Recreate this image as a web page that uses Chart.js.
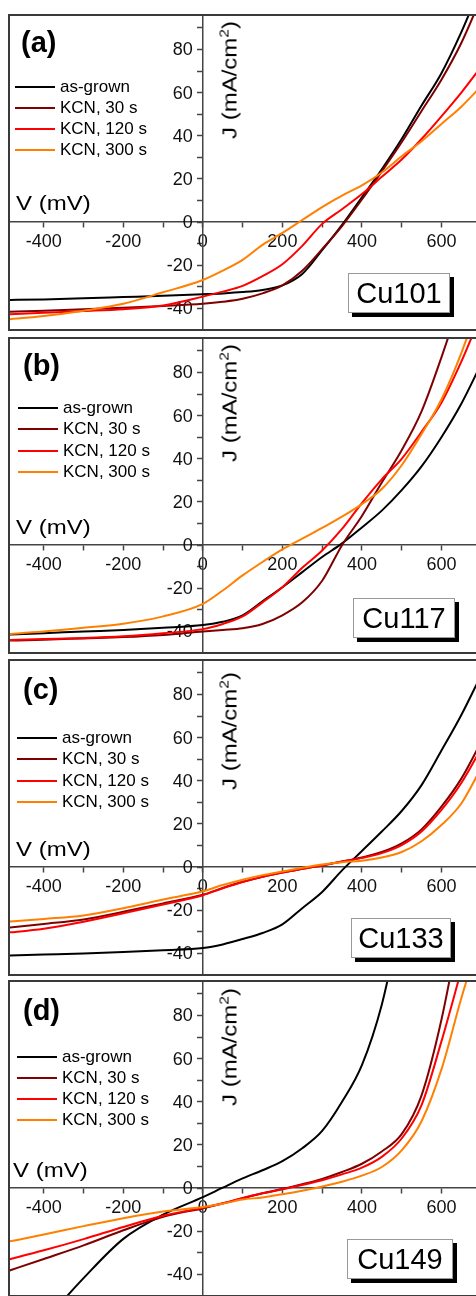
<!DOCTYPE html>
<html>
<head>
<meta charset="utf-8">
<title>J-V curves Cu101 - Cu149</title>
<script src="https://cdn.jsdelivr.net/npm/chart.js@4.4.1/dist/chart.umd.min.js"></script>
<style>
  html, body { margin: 0; padding: 0; background: #fff; overflow: hidden; }
  body { width: 476px; height: 1296px; position: relative; color: #000;
         font-family: 'Liberation Sans', Arial, sans-serif; }
  .panel  { position: absolute; left: 0; width: 476px; height: 317px; }
  .frame  { position: absolute; left: 8px; top: 0; width: 480px; height: 317px;
            box-sizing: border-box; border: 2px solid #3a3a3a; }
  .panel canvas { position: absolute; left: 10px; top: 2px; }
  .tag    { position: absolute; font-weight: bold; font-size: 29px; line-height: 29px; }
  .vlab   { position: absolute; font-size: 20px; line-height: 20px; white-space: nowrap;
            transform: scaleX(1.2); transform-origin: 0 0; }
  .jlab   { position: absolute; font-size: 20px; line-height: 20px; white-space: nowrap;
            transform: translate(-50%, -50%) rotate(-90deg) scaleX(1.2); }
  .jlab .sup { font-size: 13px; position: relative; top: -8px; }
  .legend { position: absolute; font-size: 17px; }
  .legend .row { display: flex; align-items: center; height: 21.2px; white-space: nowrap; }
  .legend .sw  { width: 40px; height: 2px; margin-right: 5px; }
  .sample { position: absolute; height: 40px; box-sizing: border-box; border: 1px solid #999;
            background: #fff; box-shadow: 4px 4px 0 #000; font-size: 29px; line-height: 38px;
            text-align: center; }
</style>
</head>
<body>
<script>
// ── DATA ─────────────────────────────────────────────────────────
// voltage grid (mV), shared by every curve
const V_MV = [-500, -400, -300, -200, -100, 0, 50, 100, 150, 200, 250, 300, 350, 400, 450, 500, 550, 600, 650, 700];

const SERIES_NAMES  = ['as-grown', 'KCN, 30 s', 'KCN, 120 s', 'KCN, 300 s'];
const SERIES_COLORS = ['#000000', '#7f0000', '#ff0000', '#ff8000'];
const SAMPLES       = ['Cu101', 'Cu117', 'Cu133', 'Cu149'];
const PANEL_TAGS    = ['(a)', '(b)', '(c)', '(d)'];

// J (mA/cm2)
const CU101_GROWN  = [-36.1, -35.8, -35.3, -34.7, -34.1, -33.4, -33, -32.4, -31.4, -29.3, -24, -13, -1.3, 11.5, 24.5, 38.5, 54, 69, 88, 110];
const CU101_KCN30  = [-41.6, -41, -40.3, -39.6, -38.8, -37.8, -36.9, -35.5, -33, -29.3, -22.5, -12.5, -1.8, 10.5, 23.5, 37, 51.5, 66, 83, 104];
const CU101_KCN120 = [-42.8, -42, -41.2, -40.3, -38.6, -34.5, -32.2, -29.5, -25, -19.5, -11, -0.8, 6, 13, 21, 29, 38.5, 49, 60, 72];
const CU101_KCN300 = [-45.2, -43.5, -41, -37.8, -32.5, -26.8, -22.5, -17.5, -10.5, -5, 1, 7, 12.3, 17, 23, 30.5, 37.5, 45.5, 53.5, 63];

const CU117_GROWN  = [-41.5, -40.8, -40, -39.3, -38.3, -37, -35.5, -32.5, -26, -19.5, -12.5, -5.5, 0.8, 8.2, 16, 25.5, 36.5, 50, 65.5, 84];
const CU117_KCN30  = [-44.3, -43.8, -43.2, -42.6, -41.6, -40, -39.3, -38.5, -36.5, -32.5, -26.5, -16.5, 0, 13.5, 29, 44, 62, 87, 115, 145];
const CU117_KCN120 = [-44, -43.5, -43, -42.2, -40.8, -38.9, -36.5, -33, -26.5, -19.5, -10.5, -2.5, 7.5, 19.5, 30.5, 40, 52.5, 66, 85, 107];
const CU117_KCN300 = [-41.3, -40, -38.3, -36.4, -33, -27.2, -21, -14, -7.8, -2, 3, 8, 13.2, 19, 26, 37, 51.5, 67.5, 89, 115];

const CU133_GROWN  = [-41, -40.5, -40, -39.3, -38.5, -37.5, -35.8, -33.3, -30.5, -26.5, -19, -11.5, -1.5, 7.5, 16.5, 26, 38, 54, 70.5, 89];
const CU133_KCN30  = [-28.2, -26.3, -24.2, -20.7, -16.8, -12.8, -9.6, -6.8, -4.5, -2.5, -0.8, 0.8, 2.6, 4.5, 7, 11, 17.5, 28, 41, 58];
const CU133_KCN120 = [-30.5, -28.5, -25.3, -21.4, -17.3, -13, -9.8, -6.9, -4.5, -2.5, -0.8, 0.8, 2.6, 4.3, 6.5, 10.2, 16.5, 26.5, 39, 55];
const CU133_KCN300 = [-25.4, -24, -22.4, -19, -15, -11.2, -8.3, -5.8, -3.7, -2, -0.3, 1.2, 2.3, 3, 4.5, 7, 12, 19.5, 29.5, 46];

const CU149_GROWN  = [null, -62, -41.7, -23.5, -12.3, -4.2, 0.2, 4.5, 8.3, 12.5, 18.5, 26.5, 40, 57, 85, 127, null, null, null, null];
const CU149_KCN30  = [-39, -32.8, -26.5, -19.5, -13.3, -9.3, -7.1, -4.7, -2.4, -0.4, 1.8, 4.3, 7.5, 11.3, 17, 25, 43, 78, 125, null];
const CU149_KCN120 = [-33.6, -28.8, -23.6, -18, -12.8, -9.1, -7, -4.6, -2.4, -0.5, 1.5, 3.7, 6.4, 9.5, 14.5, 23, 38.5, 68, 101, null];
const CU149_KCN300 = [-25.2, -21.5, -17.6, -13.9, -10.8, -8.7, -7.2, -5.3, -4.3, -2.8, -1.2, 0.8, 3, 5.8, 9.8, 17.5, 31, 55, 88, 118];

const PANEL_SERIES = [
  [CU101_GROWN, CU101_KCN30, CU101_KCN120, CU101_KCN300],
  [CU117_GROWN, CU117_KCN30, CU117_KCN120, CU117_KCN300],
  [CU133_GROWN, CU133_KCN30, CU133_KCN120, CU133_KCN300],
  [CU149_GROWN, CU149_KCN30, CU149_KCN120, CU149_KCN300]
];

// axis ranges / steps
const X_MIN = -485, X_MAX = 697, X_STEP = 100, X_LABEL_STEP = 200;
const Y_MIN = -49.5, Y_MAX = 95.5, Y_STEP = 10, Y_LABEL_STEP = 20;

// ── LAYOUT (page pixels, relative to each panel) ─────────────────
const LAYOUT = [
  { top: 14,  tag: [21, 14.3], v: [16, 178.5], j: [231, 66],   leg: [15, 62.1], box: [348, 258.7, 102] },
  { top: 337, tag: [23, 13.6], v: [16, 179.5], j: [231, 65.5], leg: [18, 60.7], box: [353, 261.3, 102] },
  { top: 659, tag: [23, 15.6], v: [16, 180],   j: [231, 71.8], leg: [17, 68.7], box: [351, 259.3, 100] },
  { top: 980, tag: [23, 15.6], v: [13, 180],   j: [231, 66.8], leg: [17, 66.1], box: [347, 258.7, 106] }
];

const FONT = "'Liberation Sans', Arial, sans-serif";
Chart.defaults.font.family = FONT;

// scales sit on the other axis, so they should not eat into the plot area
function noPadding(scale) {
  scale.paddingLeft = scale.paddingRight = scale.paddingTop = scale.paddingBottom = 0;
}

// y tick labels left of the centred axis (Chart.js puts them on the line otherwise)
const yTickLabels = {
  id: 'yTickLabels',
  beforeDatasetsDraw: function (chart) {
    var ys  = chart.scales.y;
    var x0  = chart.scales.x.getPixelForValue(0);
    var ctx = chart.ctx;
    ctx.save();
    ctx.font = '18px ' + FONT;
    ctx.fillStyle = '#111';
    ctx.textAlign = 'right';
    ctx.textBaseline = 'middle';
    ys.ticks.forEach(function (t) {
      if (t.value % Y_LABEL_STEP === 0) ctx.fillText(String(t.value), x0 - 10, ys.getPixelForValue(t.value) + 1);
    });
    ctx.restore();
  }
};

function place(el, x, y) {
  el.style.left = x + 'px';
  el.style.top  = y + 'px';
  return el;
}

function makePanel(i) {
  const L = LAYOUT[i];
  const panel = document.createElement('div');
  panel.className = 'panel';
  panel.style.top = L.top + 'px';
  document.body.appendChild(panel);

  const frame = document.createElement('div');
  frame.className = 'frame';
  panel.appendChild(frame);

  const canvas = document.createElement('canvas');
  canvas.width = 470; canvas.height = 313;
  canvas.style.width = '470px'; canvas.style.height = '313px';
  panel.appendChild(canvas);

  // legend
  const leg = place(document.createElement('div'), L.leg[0], L.leg[1]);
  leg.className = 'legend';
  SERIES_NAMES.forEach(function (name, k) {
    const row = document.createElement('div');
    row.className = 'row';
    row.innerHTML = '<span class="sw" style="background:' + SERIES_COLORS[k] + '"></span><span>' + name + '</span>';
    leg.appendChild(row);
  });
  panel.appendChild(leg);

  const tag = place(document.createElement('div'), L.tag[0], L.tag[1]);
  tag.className = 'tag';
  tag.textContent = PANEL_TAGS[i];
  panel.appendChild(tag);

  const vlab = place(document.createElement('div'), L.v[0], L.v[1]);
  vlab.className = 'vlab';
  vlab.textContent = 'V (mV)';
  panel.appendChild(vlab);

  const jlab = place(document.createElement('div'), L.j[0], L.j[1]);
  jlab.className = 'jlab';
  jlab.innerHTML = 'J (mA/cm<span class="sup">2</span>)';
  panel.appendChild(jlab);

  const box = place(document.createElement('div'), L.box[0], L.box[1]);
  box.className = 'sample';
  box.style.width = L.box[2] + 'px';
  box.textContent = SAMPLES[i];
  panel.appendChild(box);

  const axisColor = '#444';

  new Chart(canvas, {
    type: 'line',
    data: {
      datasets: PANEL_SERIES[i].map(function (ys, k) {
        return {
          label: SERIES_NAMES[k],
          data: V_MV.map(function (v, j) { return { x: v, y: ys[j] }; }),
          borderColor: SERIES_COLORS[k],
          borderWidth: 2,
          pointRadius: 0,
          fill: false,
          cubicInterpolationMode: 'monotone',
          order: SERIES_NAMES.length - k
        };
      })
    },
    options: {
      responsive: false,
      animation: false,
      devicePixelRatio: 1,
      layout: { padding: 0 },
      events: [],
      plugins: { legend: { display: false }, tooltip: { enabled: false } },
      scales: {
        x: {
          type: 'linear', min: X_MIN, max: X_MAX,
          position: { y: 0 },
          grid:   { drawOnChartArea: false, drawTicks: true, tickLength: 5, tickColor: axisColor, tickWidth: 1.5 },
          border: { display: true, color: axisColor, width: 1.5 },
          ticks: {
            stepSize: X_STEP, includeBounds: false, autoSkip: false, maxRotation: 0,
            padding: 4, color: '#111', font: { size: 18 },
            callback: function (v) { return v % X_LABEL_STEP === 0 ? String(v) : ''; }
          },
          afterFit: noPadding
        },
        y: {
          type: 'linear', min: Y_MIN, max: Y_MAX,
          position: { x: 0 },
          grid:   { drawOnChartArea: false, drawTicks: true, tickLength: 5, tickColor: axisColor, tickWidth: 1.5 },
          border: { display: true, color: axisColor, width: 1.5 },
          ticks: { display: false, stepSize: Y_STEP, includeBounds: false, autoSkip: false },
          afterFit: noPadding
        }
      }
    },
    plugins: [yTickLabels]
  });
}

for (let i = 0; i < SAMPLES.length; i++) makePanel(i);
</script>
</body>
</html>
